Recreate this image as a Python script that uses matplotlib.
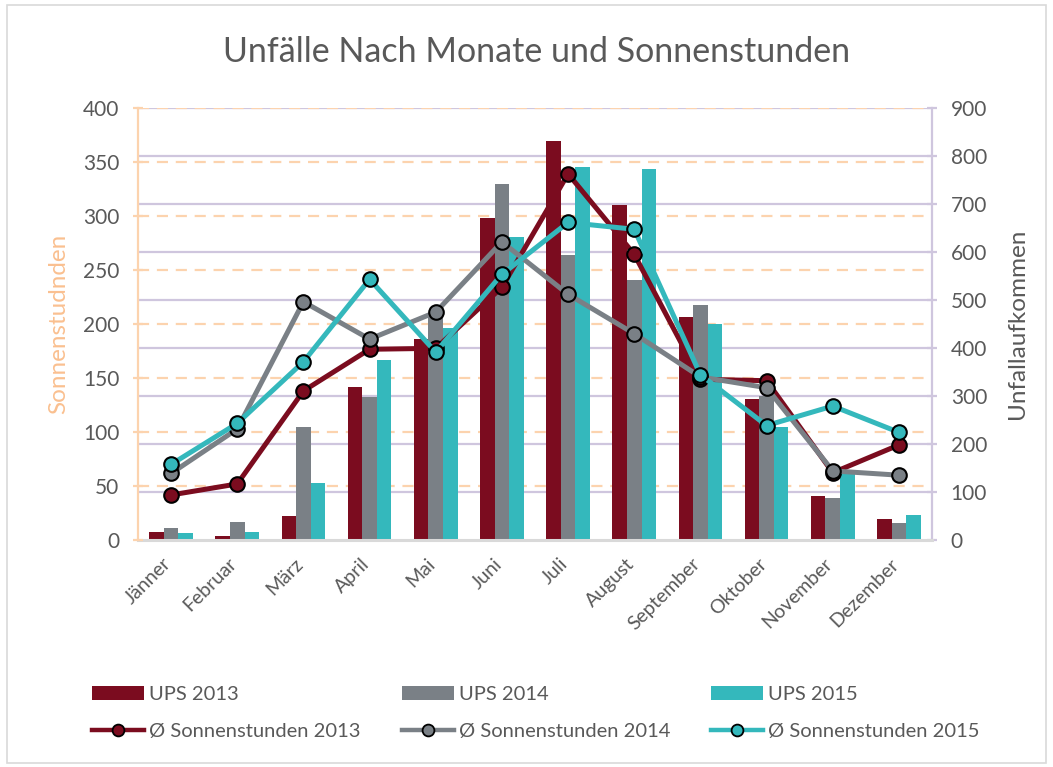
import matplotlib
matplotlib.use("Agg")
import matplotlib.pyplot as plt
from matplotlib.lines import Line2D
from matplotlib.patches import Patch, Rectangle
import matplotlib.transforms as mtransforms
import numpy as np

months = ["Jänner", "Februar", "März", "April", "Mai", "Juni", "Juli",
          "August", "September", "Oktober", "November", "Dezember"]

# Bars (right axis: Unfallaufkommen)
ups2013 = [17, 8, 50, 318, 418, 670, 831, 698, 465, 294, 92, 44]
ups2014 = [24, 37, 235, 297, 470, 741, 594, 542, 489, 299, 87, 35]
ups2015 = [15, 17, 119, 374, 442, 631, 777, 773, 451, 236, 140, 52]

# Lines (left axis: Sonnenstunden)
sun2013 = [41.7, 51.9, 138, 176.6, 177.5, 234, 339, 264.5, 148.8, 147.5, 62.3, 88]
sun2014 = [61.7, 102.8, 220.6, 186, 211, 276, 227.5, 191, 151, 141, 64, 60]
sun2015 = [70, 108, 165, 241.4, 174, 246, 294, 287.7, 153, 106, 124, 99.7]

left_ticks = [0, 50, 100, 150, 200, 250, 300, 350, 400]
right_ticks = [0, 100, 200, 300, 400, 500, 600, 700, 800, 900]

C13 = "#7B0C1F"
C14 = "#7A8086"
C15 = "#34B8BC"
TXT = "#595959"
ORANGE = "#FCD3AE"
PURPLE = "#CFC6DE"

plt.rcParams['font.family'] = ['Lato', 'DejaVu Sans']

W, H = 1053, 767
fig = plt.figure(figsize=(W / 100, H / 100), dpi=100)

# outer chart border
fig.patches.append(Rectangle((7 / W, 4 / H), (1046 - 7) / W, (762 - 4) / H,
                             transform=fig.transFigure, fill=False,
                             edgecolor="#D9D9D9", linewidth=1.2))

ax = fig.add_axes([138 / W, 1 - 540 / H, (932 - 138) / W, (540 - 108) / H])
ax2 = ax.twinx()

x = np.arange(len(months))
bw = 0.22
ymax_r = right_ticks[-1]
ymax_l = left_ticks[-1]

# gridlines: purple solid (right ticks), orange dashed (left ticks)
for t in right_ticks[1:]:
    ax.axhline(t, color=PURPLE, lw=1.6, zorder=0)
for t in left_ticks[1:]:
    ax.axhline(t * ymax_r / ymax_l, color=ORANGE, lw=1.6, ls=(0, (5, 3.5)), zorder=0)

ax.bar(x - bw, ups2013, bw, color=C13, zorder=2, label="UPS 2013")
ax.bar(x, ups2014, bw, color=C14, zorder=2, label="UPS 2014")
ax.bar(x + bw, ups2015, bw, color=C15, zorder=2, label="UPS 2015")

ax.set_xlim(-0.5, len(months) - 0.5)
ax.set_ylim(0, ymax_r)
ax2.set_ylim(0, ymax_l)

for data, c in [(sun2013, C13), (sun2014, C14), (sun2015, C15)]:
    ax2.plot(x, data, color=c, lw=3.6, marker="o", markersize=10.5,
             markerfacecolor=c, markeredgecolor="black", markeredgewidth=1.5,
             solid_joinstyle="round")

# axis placement: bars axis on the right, line axis on the left
ax.yaxis.tick_right()
ax.yaxis.set_label_position("right")
ax2.yaxis.tick_left()
ax2.yaxis.set_label_position("left")

ax.set_yticks(right_ticks)
ax2.set_yticks(left_ticks)

for a in (ax, ax2):
    for s in a.spines.values():
        s.set_visible(False)

ax2.spines["left"].set_visible(True)
ax2.spines["left"].set_color(ORANGE)
ax2.spines["left"].set_linewidth(1.6)
ax.spines["right"].set_visible(True)
ax.spines["right"].set_color(PURPLE)
ax.spines["right"].set_linewidth(1.6)
ax.spines["bottom"].set_visible(True)
ax.spines["bottom"].set_color("#D9D9D9")
ax.spines["bottom"].set_linewidth(2.2)

ax.tick_params(axis="y", direction="inout", length=7, width=1.6, color=PURPLE,
               labelcolor=TXT, labelsize=15, pad=10)
ax2.tick_params(axis="y", direction="inout", length=7, width=1.6, color=ORANGE,
                labelcolor=TXT, labelsize=15, pad=10)
ax.tick_params(axis="x", length=0, pad=8)
ax.set_xticks(x)
ax.set_xticklabels(months, rotation=45, ha="right", rotation_mode="anchor",
                   fontsize=14, color=TXT)
offset = mtransforms.ScaledTranslation(-9 / 100, -4 / 100, fig.dpi_scale_trans)
for lbl in ax.get_xticklabels():
    lbl.set_transform(lbl.get_transform() + offset)

ax2.set_ylabel("Sonnenstudnden", color="#FAC090", fontsize=17.5, labelpad=10)
ax.set_ylabel("Unfallaufkommen", color=TXT, fontsize=17.5, labelpad=14)

fig.text(537 / W, 1 - 52 / H, "Unfälle Nach Monate und Sonnenstunden",
         ha="center", va="center", fontsize=24.5, color=TXT)

# legends, one per column
entries = [
    ("UPS 2013", "Ø Sonnenstunden 2013", C13, 92),
    ("UPS 2014", "Ø Sonnenstunden 2014", C14, 402),
    ("UPS 2015", "Ø Sonnenstunden 2015", C15, 711),
]
for bl, ll, c, xpos in entries:
    hp = Patch(facecolor=c, edgecolor="none")
    hl = Line2D([0], [0], color=c, lw=3.2, marker="o", markersize=8.5,
                markerfacecolor=c, markeredgecolor="black", markeredgewidth=1.3)
    leg = fig.legend([hp, hl], [bl, ll], loc="upper left",
                     bbox_to_anchor=(xpos / W, 1 - 686 / H), frameon=False,
                     fontsize=14.5, handlelength=2.6, handletextpad=0.25,
                     labelspacing=1.0, borderpad=0, borderaxespad=0)
    for t in leg.get_texts():
        t.set_color(TXT)

fig.savefig("out.png", dpi=100)
